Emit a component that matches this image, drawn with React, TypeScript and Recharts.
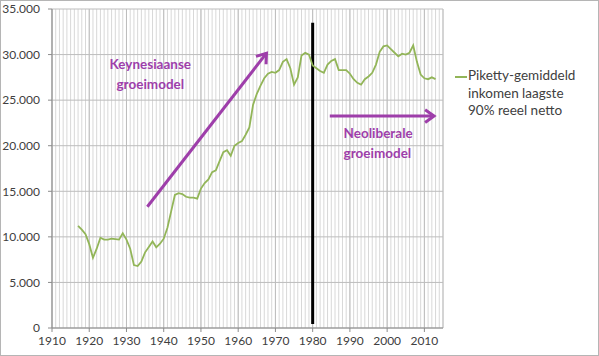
import React from "react";
import {
  LineChart, Line, XAxis, YAxis, CartesianGrid, ReferenceLine, ReferenceDot,
} from "recharts";

// jaar en gemiddeld inkomen laagste 90% (reeel, netto)
const years = [
  1917, 1918, 1919, 1920, 1921, 1922, 1923, 1924, 1925, 1926, 1927, 1928, 1929,
  1930, 1931, 1932, 1933, 1934, 1935, 1936, 1937, 1938, 1939, 1940, 1941, 1942,
  1943, 1944, 1945, 1946, 1947, 1948, 1949, 1950, 1951, 1952, 1953, 1954, 1955,
  1956, 1957, 1958, 1959, 1960, 1961, 1962, 1963, 1964, 1965, 1966, 1967, 1968,
  1969, 1970, 1971, 1972, 1973, 1974, 1975, 1976, 1977, 1978, 1979, 1980, 1981,
  1982, 1983, 1984, 1985, 1986, 1987, 1988, 1989, 1990, 1991, 1992, 1993, 1994,
  1995, 1996, 1997, 1998, 1999, 2000, 2001, 2002, 2003, 2004, 2005, 2006, 2007,
  2008, 2009, 2010, 2011, 2012, 2013,
];
const income = [
  11200, 10800, 10300, 9200, 7700, 8700, 9900, 9700, 9700, 9800, 9750, 9700, 10400,
  9700, 8700, 6900, 6800, 7300, 8300, 8900, 9500, 8850, 9250, 9800, 11000, 12800,
  14600, 14800, 14700, 14400, 14300, 14300, 14200, 15300, 15900, 16300, 17100, 17300, 18300,
  19300, 19500, 18900, 20000, 20300, 20500, 21200, 22000, 24500, 25700, 26600, 27400, 27900,
  28100, 28000, 28300, 29200, 29500, 28500, 26700, 27500, 29900, 30200, 30000, 28800, 28500,
  28200, 28000, 28900, 29300, 29500, 28300, 28300, 28300, 27900, 27300, 26900, 26700, 27300,
  27600, 28000, 28900, 30300, 30900, 31000, 30600, 30200, 29800, 30100, 30000, 30200, 31000,
  29200, 27800, 27400, 27300, 27500, 27300,
];

const xTicks = [1910, 1920, 1930, 1940, 1950, 1960, 1970, 1980, 1990, 2000, 2010];
const yTicks = [0, 5000, 10000, 15000, 20000, 25000, 30000, 35000];
const X_MIN = 1910;
const X_MAX = 2015;

const data = years.map((year, i) => ({ year, income: income[i] }));

const GREEN = "#92B558";
const PURPLE = "#9E3EAA";
const FONT = "Lato, 'Open Sans', sans-serif";
const TEXT = "#404040";

const fmt = (v: number) => (v === 0 ? "0" : v.toLocaleString("de-DE"));

// one thin grid line per year
const yearLines = ({ offset }: any) => {
  const out: number[] = [];
  for (let y = X_MIN; y <= X_MAX; y++) {
    out.push(offset.left + ((y - X_MIN) / (X_MAX - X_MIN)) * offset.width);
  }
  return out;
};

const Arrow = (props: any) => {
  const { x1, y1, x2, y2 } = props;
  const ang = Math.atan2(y2 - y1, x2 - x1);
  const len = 11;
  const spread = 0.62;
  const ax = x2 - len * Math.cos(ang - spread);
  const ay = y2 - len * Math.sin(ang - spread);
  const bx = x2 - len * Math.cos(ang + spread);
  const by = y2 - len * Math.sin(ang + spread);
  return (
    <g>
      <line x1={x1} y1={y1} x2={x2} y2={y2} stroke={PURPLE} strokeWidth={3} />
      <polyline
        points={`${ax},${ay} ${x2},${y2} ${bx},${by}`}
        fill="none" stroke={PURPLE} strokeWidth={3}
      />
    </g>
  );
};

const label = (lines: string[], anchor: string) => (props: any) => (
  <text x={props.cx} y={props.cy} fill={PURPLE} fontFamily={FONT} fontSize={13.5}
    fontWeight="bold" textAnchor={anchor}>
    {lines.map((l, i) => (
      <tspan key={i} x={props.cx} dy={i === 0 ? 0 : 20}>{l}</tspan>
    ))}
  </text>
);

export default function App() {
  return (
    <div style={{ position: "absolute", left: 0, top: 0, width: 599, height: 356, background: "#fff",
      outline: "1px solid #b5b5b5", outlineOffset: -1 }}>
      <LineChart width={599} height={356} data={data} margin={{ top: 9, right: 156, bottom: 0, left: 0 }}>
        <CartesianGrid horizontal={false} verticalCoordinatesGenerator={yearLines} stroke="#d8d8d8" />
        <CartesianGrid stroke="#bdbdbd" />
        <XAxis dataKey="year" type="number" domain={[X_MIN, X_MAX]} ticks={xTicks} interval={0}
          allowDataOverflow height={28} tickSize={4} tickMargin={4}
          stroke="#8c8c8c" tick={{ fill: TEXT, fontSize: 12, fontFamily: FONT }} />
        <YAxis type="number" domain={[0, 35000]} ticks={yTicks} width={52} interval={0}
          tickSize={4} tickMargin={8} tickFormatter={fmt}
          stroke="#8c8c8c" tick={{ fill: TEXT, fontSize: 12, fontFamily: FONT }} />
        <ReferenceLine segment={[{ x: 1980, y: 33500 }, { x: 1980, y: 450 }]}
          stroke="#000" strokeWidth={3} />
        <ReferenceLine segment={[{ x: 1935.6, y: 13300 }, { x: 1967.6, y: 30150 }]} shape={Arrow} />
        <ReferenceLine segment={[{ x: 1984.6, y: 23250 }, { x: 2012.6, y: 23250 }]} shape={Arrow} />
        <ReferenceDot x={1936.4} y={28400} r={0} shape={label(["Keynesiaanse", "groeimodel"], "middle")} />
        <ReferenceDot x={1988.3} y={20900} r={0} shape={label(["Neoliberale", "groeimodel"], "start")} />
        <Line type="linear" dataKey="income" name="Piketty-gemiddeld inkomen laagste 90% reeel netto"
          stroke={GREEN} strokeWidth={1.8} dot={false} isAnimationActive={false} />
      </LineChart>
      <div style={{ position: "absolute", left: 455, top: 67, display: "flex", fontFamily: FONT,
        fontSize: 13.5, color: TEXT, lineHeight: "17.5px" }}>
        <div style={{ width: 12, height: 2, background: GREEN, marginTop: 9, marginRight: 1 }} />
        <div>Piketty-gemiddeld<br />inkomen laagste<br />90% reeel netto</div>
      </div>
    </div>
  );
}
